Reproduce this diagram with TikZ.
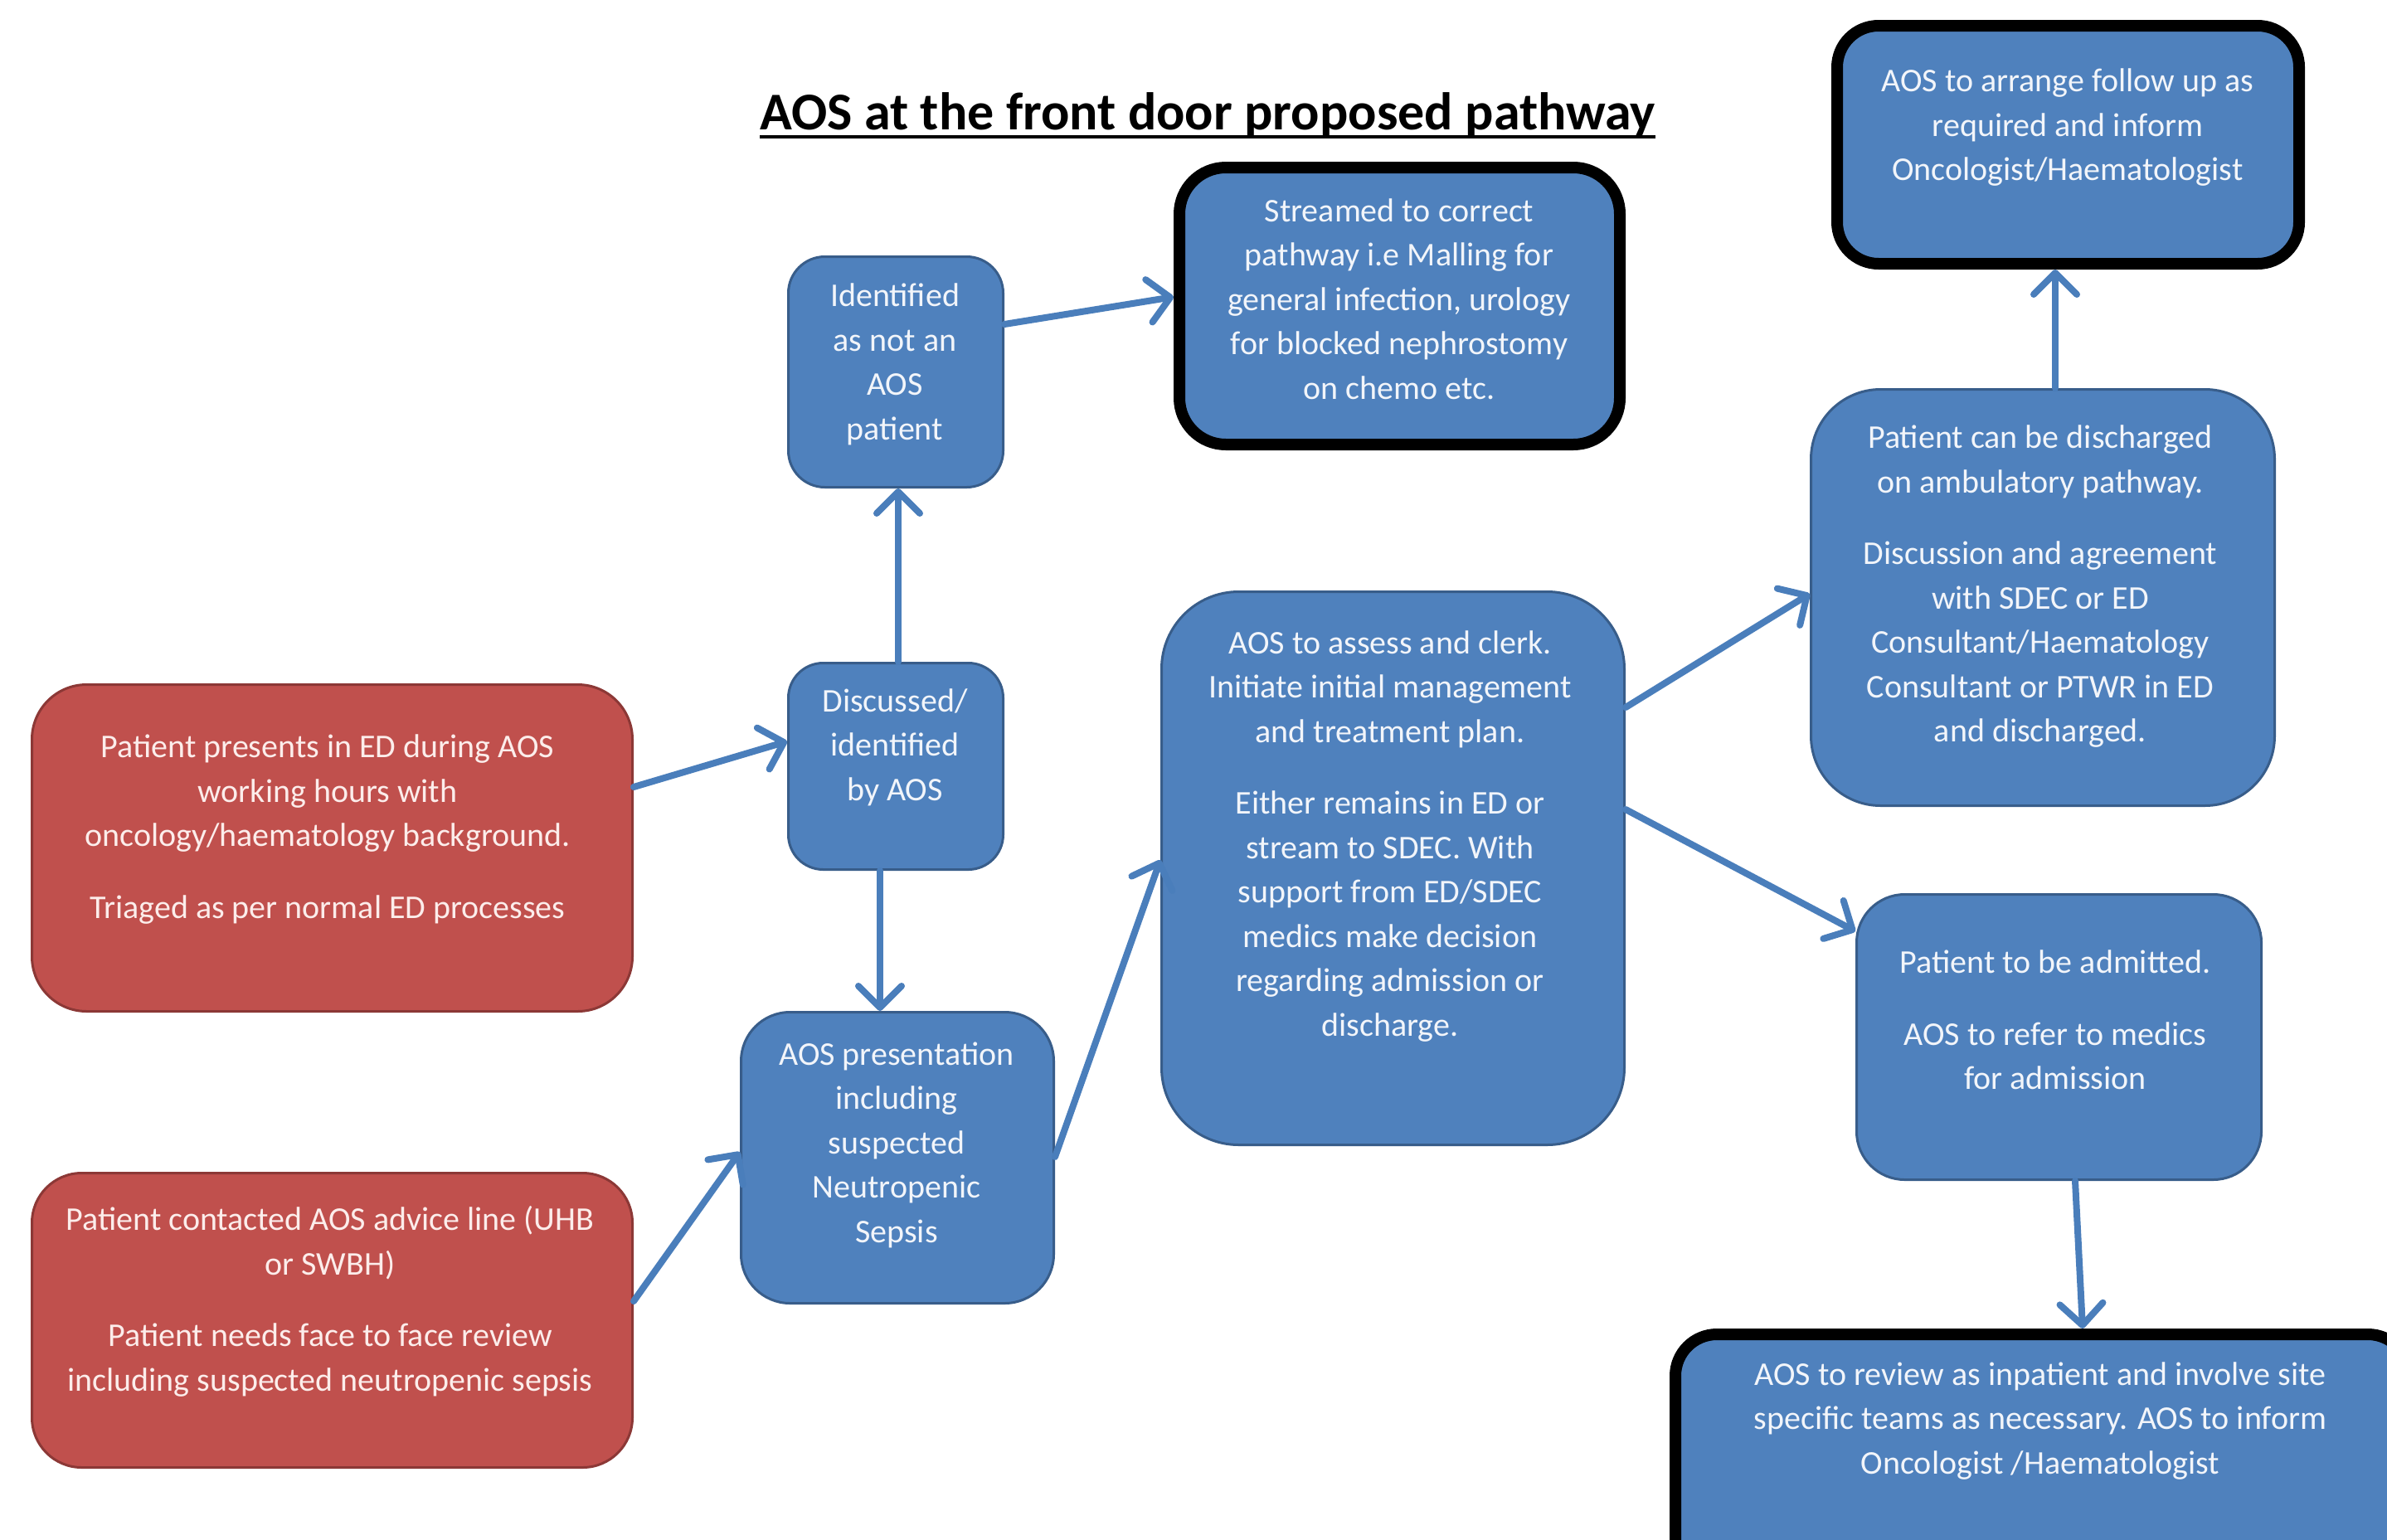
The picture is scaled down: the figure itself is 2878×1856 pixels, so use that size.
\documentclass[tikz,border=0pt]{standalone}
\usepackage{fontspec}
\setmainfont{Carlito}
\usetikzlibrary{arrows.meta}
\definecolor{bfill}{HTML}{4F81BD}
\definecolor{bborder}{HTML}{385D8A}
\definecolor{rfill}{HTML}{C0504D}
\definecolor{rborder}{HTML}{8C3836}
\definecolor{arrowc}{HTML}{4A7EBB}
\definecolor{btext}{HTML}{F2F5FA}
\definecolor{rtext}{HTML}{FCEDEB}
\tikzset{
  bbox/.style={draw=bborder, fill=bfill, line width=3pt, inner sep=0pt},
  rbox/.style={draw=rborder, fill=rfill, line width=3pt, inner sep=0pt},
  kbox/.style={draw=black, fill=bfill, line width=14pt, inner sep=0pt},
  txt/.style={text=btext, align=center, inner sep=0pt, font=\fontsize{40}{53.5}\selectfont},
  rtxt/.style={txt, text=rtext},
  arr/.style={draw=arrowc, line width=8pt, line cap=round, -{Straight Barb[length=26pt,width=52pt,line cap=round,round]}},
  uline/.style={draw=black, line width=4pt},
}
\begin{document}
\begin{tikzpicture}[x=1pt,y=-1pt]
\useasboundingbox (0,0) rectangle (2878,1856);
\clip (0,0) rectangle (2878,1856);
\fill[white] (0,0) rectangle (2878,1856);

% title
\node[anchor=base, inner sep=0pt, font=\fontsize{64}{70}\selectfont\bfseries] (title) at (1456,156)
  {AOS at the front door proposed pathway};
\draw[uline] ([yshift=-9pt]title.base west) -- ([yshift=-9pt]title.base east);

% boxes
\node[rbox, minimum width=724pt, minimum height=394pt, rounded corners=66pt] (red1) at (400.5,1022.5) {};
\node[rbox, minimum width=724pt, minimum height=355pt, rounded corners=60pt] (red2) at (400.5,1592) {};
\node[bbox, minimum width=259pt, minimum height=249pt, rounded corners=42pt] (disc) at (1080,924) {};
\node[bbox, minimum width=259pt, minimum height=278pt, rounded corners=44pt] (ident) at (1080,448.5) {};
\node[kbox, minimum width=531pt, minimum height=334pt, rounded corners=56pt] (strm) at (1687.5,369) {};
\node[bbox, minimum width=377pt, minimum height=351pt, rounded corners=59pt] (pres) at (1082,1396) {};
\node[bbox, minimum width=558pt, minimum height=667pt, rounded corners=93pt] (asse) at (1679.5,1047) {};
\node[bbox, minimum width=559pt, minimum height=502pt, rounded corners=84pt] (disch) at (2463,720.5) {};
\node[kbox, minimum width=557pt, minimum height=287pt, rounded corners=50pt] (fup) at (2493.5,174.5) {};
\node[bbox, minimum width=488pt, minimum height=344pt, rounded corners=58pt] (adm) at (2482.5,1250.5) {};
\node[kbox, minimum width=885pt, minimum height=301pt, rounded corners=50pt] (rev) at (2462.5,1759.5) {};

% texts
\node[rtxt] (t-red1) at (395,1000) {Patient presents in ED during AOS\\ working hours with\\ oncology/haematology background.\\[33pt] Triaged as per normal ED processes};
\node[rtxt] (t-red2) at (398,1569.5) {Patient contacted AOS advice line (UHB\\ or SWBH)\\[33pt] Patient needs face to face review\\ including suspected neutropenic sepsis};
\node[txt] (t-disc) at (1079,901) {Discussed/\\ identified\\ by AOS};
\node[txt] (t-ident) at (1079,439.5) {Identified\\ as not an\\ AOS\\ patient};
\node[txt] (t-strm) at (1687,360.5) {Streamed to correct\\ pathway i.e Malling for\\ general infection, urology\\ for blocked nephrostomy\\ on chemo etc.};
\node[txt] (t-pres) at (1081,1380.5) {AOS presentation\\ including\\ suspected\\ Neutropenic\\ Sepsis};
\node[txt] (t-asse) at (1676,1008.5) {AOS to assess and clerk.\\ Initiate initial management\\ and treatment plan.\\[33pt] Either remains in ED or\\ stream to SDEC. With\\ support from ED/SDEC\\ medics make decision\\ regarding admission or\\ discharge.};
\node[txt] (t-disch) at (2460,707.5) {Patient can be discharged\\ on ambulatory pathway.\\[33pt] Discussion and agreement\\ with SDEC or ED\\ Consultant/Haematology\\ Consultant or PTWR in ED\\ and discharged.};
\node[txt] (t-fup) at (2493,154) {AOS to arrange follow up as\\ required and inform\\ Oncologist/Haematologist};
\node[txt] (t-adm) at (2478,1230) {Patient to be admitted.\\[33pt] AOS to refer to medics\\ for admission};
\node[txt] (t-rev) at (2460,1713.5) {AOS to review as inpatient and involve site\\ specific teams as necessary. AOS to inform\\ Oncologist /Haematologist};

% connectors
\draw[arr] ([yshift=73.5pt]red1.east) -- ([yshift=30pt]disc.west);
\draw[arr] ([xshift=3pt]disc.north) -- ([xshift=3pt]ident.south);
\draw[arr] ([yshift=57.5pt]ident.east) -- ([yshift=11pt]strm.west);
\draw[arr] ([xshift=-19pt]disc.south) -- ([xshift=-21pt]pres.north);
\draw[arr] ([yshift=23pt]red2.east) -- ([yshift=7pt]pres.west);
\draw[arr] ([yshift=1pt]pres.east) -- ([yshift=10pt]asse.west);
\draw[arr] ([yshift=194pt]asse.east) -- ([yshift=4.5pt]disch.west);
\draw[arr] ([yshift=71pt]asse.east) -- ([yshift=127.5pt]adm.west);
\draw[arr] ([xshift=15pt]disch.north) -- ([xshift=-15.5pt]fup.south);
\draw[arr] ([xshift=19.5pt]adm.south) -- ([xshift=48.5pt]rev.north);
\end{tikzpicture}
\end{document}
